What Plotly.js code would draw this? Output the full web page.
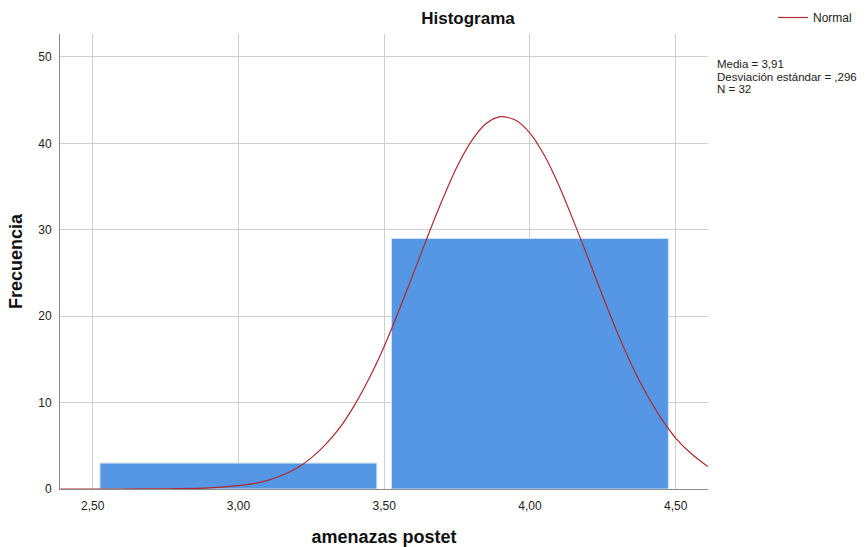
<!DOCTYPE html>
<html>
<head>
<meta charset="utf-8">
<script src="https://cdn.plot.ly/plotly-3.0.1.min.js"></script>
<style>
  html, body { margin: 0; padding: 0; background: #fff; }
  #chart { width: 868px; height: 547px; }
</style>
</head>
<body>
<div id="chart"></div>
<script>
// Histogram bins (bin centers) and counts
const binCenters = [3.0, 4.0];
const binCounts = [3, 29];

// Normal curve
const curveX = [2.39, 2.50, 2.60, 2.70, 2.80, 2.90, 3.00, 3.05, 3.10, 3.15, 3.20, 3.25, 3.30, 3.35, 3.40, 3.45, 3.50, 3.55, 3.60, 3.65, 3.70, 3.75, 3.80, 3.85, 3.90, 3.95, 4.00, 4.05, 4.10, 4.15, 4.20, 4.25, 4.30, 4.35, 4.40, 4.45, 4.50, 4.55, 4.61];
const curveY = [0.0, 0.0, 0.0, 0.01, 0.04, 0.13, 0.38, 0.63, 1.0, 1.6, 2.4, 3.6, 5.2, 7.2, 9.8, 12.9, 16.5, 20.6, 24.9, 29.3, 33.5, 37.3, 40.3, 42.3, 43.1, 42.7, 41.2, 38.6, 35.1, 31.0, 26.7, 22.3, 18.1, 14.3, 11.0, 8.2, 5.9, 4.2, 2.6];

const statsLines = ["Media = 3,91", "Desviación estándar = ,296", "N = 32"];
const xTickVals = [2.5, 3.0, 3.5, 4.0, 4.5];
const yTickVals = [0, 10, 20, 30, 40, 50];

const FONT = "Liberation Sans, Arial, sans-serif";

const traces = [
  {
    type: "bar",
    x: binCenters,
    y: binCounts,
    width: 0.95,
    marker: { color: "#5596E5", line: { color: "#D2E3F7", width: 1 } },
    showlegend: false,
    hoverinfo: "x+y"
  },
  {
    type: "scatter",
    mode: "lines",
    name: "Normal",
    x: curveX,
    y: curveY,
    line: { color: "#AE2A2E", width: 1.2, shape: "spline", smoothing: 0.8 },
    cliponaxis: true
  }
];

const annotations = statsLines.map((t, i) => ({
  text: t,
  xref: "paper", yref: "paper",
  x: (716 - 60) / 648, y: (489 - 64) / 455,
  xanchor: "left", yanchor: "middle",
  yshift: -12.5 * i,
  showarrow: false,
  align: "left",
  borderpad: 0,
  font: { family: FONT, size: 11.5, color: "#222" }
}));

const layout = {
  width: 868, height: 547,
  paper_bgcolor: "#fff", plot_bgcolor: "#fff",
  margin: { l: 60, r: 160, t: 34, b: 58, autoexpand: false },
  separators: ",.",
  font: { family: FONT, size: 12, color: "#222" },
  title: {
    text: "<b>Histograma</b>",
    xref: "container", yref: "container",
    x: 468 / 868, xanchor: "center",
    y: 1 - 18 / 547, yanchor: "middle",
    font: { family: FONT, size: 17, color: "#111" }
  },
  xaxis: {
    range: [2.388, 4.611],
    tickvals: xTickVals,
    tickformat: ".2f",
    showgrid: true, gridcolor: "#CFCFCF", gridwidth: 1,
    zeroline: false,
    showline: true, linecolor: "#8C8C8C", linewidth: 1,
    ticks: "", ticklabelstandoff: 6,
    tickfont: { family: FONT, size: 12, color: "#222" },
    title: { text: "<b>amenazas postet</b>", standoff: 20, font: { family: FONT, size: 18, color: "#111" } },
    fixedrange: true
  },
  yaxis: {
    range: [0, 52.66],
    tickvals: yTickVals,
    showgrid: true, gridcolor: "#CFCFCF", gridwidth: 1,
    zeroline: false,
    showline: true, linecolor: "#8C8C8C", linewidth: 1,
    ticks: "", ticklabelstandoff: 5,
    tickfont: { family: FONT, size: 12, color: "#222" },
    title: { text: "<b>Frecuencia</b>", standoff: 10, font: { family: FONT, size: 18, color: "#111" } },
    fixedrange: true
  },
  showlegend: true,
  legend: {
    x: (773 - 60) / 648, xanchor: "left",
    y: (489 - 3) / 455, yanchor: "top",
    bgcolor: "rgba(0,0,0,0)",
    font: { family: FONT, size: 12, color: "#222" }
  },
  annotations: annotations,
  bargap: 0
};

Plotly.newPlot("chart", traces, layout, { displayModeBar: false, staticPlot: true });
</script>
</body>
</html>
